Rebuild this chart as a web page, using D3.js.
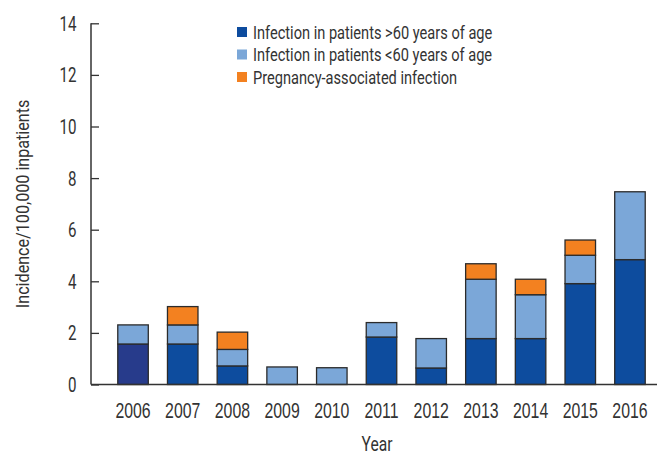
<!DOCTYPE html>
<html><head><meta charset="utf-8">
<script src="https://cdn.jsdelivr.net/npm/d3@7"></script>
<style>
html,body{margin:0;padding:0;background:#fff;}
svg{display:block;font-family:"Roboto","DejaVu Sans Condensed",sans-serif;}
</style></head>
<body><svg id="chart" width="657" height="455"></svg>
<script>
const years = ["2006","2007","2008","2009","2010","2011","2012","2013","2014","2015","2016"];
const over60 = [1.57,1.57,0.72,0,0,1.84,0.64,1.78,1.78,3.91,4.84];
const under60 = [0.74,0.74,0.64,0.68,0.65,0.56,1.14,2.30,1.70,1.10,2.63];
const pregnancy = [0,0.71,0.67,0,0,0,0,0.60,0.60,0.59,0];
const seriesNames = ["Infection in patients >60 years of age","Infection in patients <60 years of age","Pregnancy-associated infection"];
const yTicks = [0,2,4,6,8,10,12,14];

const colors = ["#0d4c9e","#7ba7d8","#f38120"];
const firstBarDark = "#273b8b";
const textColor = "#333";
const SX = 0.72; // horizontal condensing of the type

const svg = d3.select("#chart");
const mLeft = 91, mRight = 657, mTop = 23.3, mBottom = 384.5;

const table = years.map((y,i)=>({year:y, s0:over60[i], s1:under60[i], s2:pregnancy[i]}));
const stacked = d3.stack().keys(["s0","s1","s2"])(table);

const x = d3.scaleBand().domain(years).range([97.9,665.1]).paddingInner(0.386).paddingOuter(0.4);
const y = d3.scaleLinear().domain([0,14]).range([mBottom,mTop]);

function label(g, tx, ty, txt, size, anchor, rot, sx){
  return g.append("text")
    .attr("transform", `translate(${tx},${ty})` + (rot?` rotate(${rot})`:"") + ` scale(${sx||SX},1)`)
    .attr("text-anchor", anchor).attr("font-size", size).attr("fill", textColor).text(txt);
}

// bars
stacked.forEach((layer,li)=>{
  svg.append("g").selectAll("rect").data(layer.filter(d=>d[1]-d[0]>0)).join("rect")
    .attr("x",d=>x(d.data.year))
    .attr("width",x.bandwidth())
    .attr("y",d=>y(d[1]))
    .attr("height",d=>y(d[0])-y(d[1]))
    .attr("fill",d=>(li===0 && d.data.year===years[0])?firstBarDark:colors[li])
    .attr("stroke","#2b2b2b")
    .attr("stroke-width",1.3);
});

// y axis
const yAxis = d3.axisRight(y).tickValues(yTicks).tickSize(8).tickFormat(()=> "");
const gy = svg.append("g").attr("transform",`translate(${mLeft},0)`).call(yAxis);
gy.select(".domain").remove();
gy.selectAll(".tick line").attr("stroke",textColor).attr("stroke-width",1.3);
svg.append("line").attr("x1",mLeft).attr("x2",mLeft).attr("y1",mTop).attr("y2",mBottom)
  .attr("stroke",textColor).attr("stroke-width",1.5);
const gyl = svg.append("g");
yTicks.forEach(v=>{
  label(gyl, 76.5, y(v), v, 21, "end").attr("dy","0.36em");
});

// x axis
svg.append("line").attr("x1",mLeft).attr("x2",mRight).attr("y1",mBottom).attr("y2",mBottom)
  .attr("stroke",textColor).attr("stroke-width",1.5);
const xAxis = d3.axisBottom(x).tickSize(0).tickPadding(0);
const gx = svg.append("g").attr("transform",`translate(0,${mBottom})`).call(xAxis);
gx.select(".domain").remove();
gx.selectAll(".tick text").attr("font-size",22).attr("fill",textColor)
  .attr("font-family",null)
  .attr("dy",null).attr("y",null)
  .attr("transform",`translate(0,33.5) scale(${SX},1)`);

// axis titles
label(svg, 377, 451, "Year", 20, "middle", 0, 0.78);
label(svg, 29, (mTop+mBottom)/2, "Incidence/100,000 inpatients", 19, "middle", -90, 0.85);

// legend
const lg = svg.append("g");
seriesNames.forEach((n,i)=>{
  const cy = 32 + i*22.5;
  lg.append("rect").attr("x",237).attr("y",cy-5).attr("width",10).attr("height",10).attr("fill",colors[i]);
  label(lg, 253, cy, n, 18.5, "start", 0, 0.79).attr("dy","0.36em");
});
</script></body></html>
